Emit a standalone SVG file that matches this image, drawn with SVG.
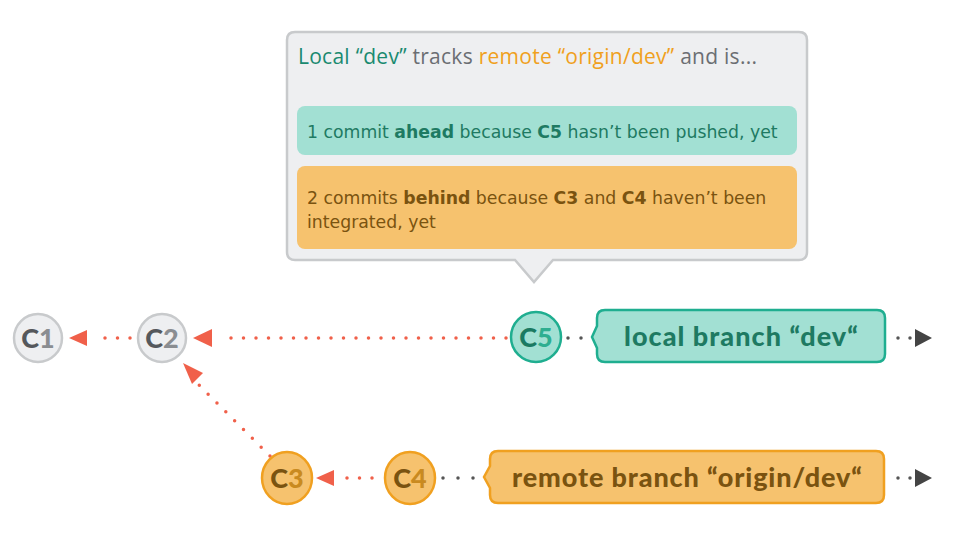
<svg xmlns="http://www.w3.org/2000/svg" width="960" height="537" viewBox="0 0 960 537">
<style>
.gc{fill:#eeeff1;stroke:#c8cacc;stroke-width:2.5}
.tc{fill:#a2e0d3;stroke:#1fae90;stroke-width:2.5}
.oc{fill:#f6c26e;stroke:#f0a020;stroke-width:2.5}
.ct{font-family:"Lato","Liberation Sans",sans-serif;font-weight:900;font-size:27px;text-anchor:middle}
.lbl{font-family:"Lato","Liberation Sans",sans-serif;font-weight:900;font-size:27px}
.tip{font-family:"DejaVu Sans","Liberation Sans",sans-serif;font-size:17.3px}
.head{font-family:"Open Sans","Liberation Sans",sans-serif;font-size:21px}
.rd{stroke:#f0604a;stroke-width:3.5;stroke-linecap:round;stroke-dasharray:0 12.5;fill:none}
.gd{stroke:#555;stroke-width:3.5;stroke-linecap:round;fill:none}
</style>
<g id="tooltip">
<path d="M295,32 H799 Q807,32 807,40 V252 Q807,260 799,260 H553 L534,282 L515,260 H295 Q287,260 287,252 V40 Q287,32 295,32 Z" fill="#eeeff1" stroke="#c8cacc" stroke-width="2.5"/>
<text class="head" x="298" y="64" textLength="459"><tspan fill="#1a8a70">Local “dev”</tspan><tspan fill="#6b6e73"> tracks </tspan><tspan fill="#f0a020">remote “origin/dev”</tspan><tspan fill="#6b6e73"> and is...</tspan></text>
<rect x="297" y="106" width="500" height="49" rx="8" fill="#a2e0d3"/>
<text class="tip" x="307" y="138" fill="#1e7a62">1 commit <tspan font-weight="bold">ahead</tspan> because <tspan font-weight="bold">C5</tspan> hasn’t been pushed, yet</text>
<rect x="297" y="166" width="500" height="83" rx="8" fill="#f6c26e"/>
<text class="tip" x="307" y="204" fill="#7a5310">2 commits <tspan font-weight="bold">behind</tspan> because <tspan font-weight="bold">C3</tspan> and <tspan font-weight="bold">C4</tspan> haven’t been</text>
<text class="tip" x="307" y="228" fill="#7a5310">integrated, yet</text>
</g>
<g id="connectors">
<path class="rd" d="M130,338 H95"/>
<polygon points="69,338 87,330 87,346" fill="#f0604a"/>
<path class="rd" d="M506,338 H219"/>
<polygon points="193,338 212,329 212,347" fill="#f0604a"/>
<path class="rd" d="M270,456 L198,384"/>
<polygon points="183,363 203,373 192,384" fill="#f0604a"/>
<path class="rd" d="M372,478 H345"/>
<polygon points="316,478 334,470 334,486" fill="#f0604a"/>
<path class="gd" stroke-dasharray="0 13" d="M568,338 H595"/>
<path class="gd" stroke-dasharray="0 12" d="M898,338 H910.5"/>
<polygon points="932,338 915,329 915,347" fill="#444"/>
<path class="gd" stroke-dasharray="0 15" d="M443,478 H473.5"/>
<path class="gd" stroke-dasharray="0 12" d="M898,478 H910.5"/>
<polygon points="932,478 915,469 915,487" fill="#444"/>
</g>
<g id="C1"><circle class="gc" cx="38" cy="338" r="24"/><text class="ct" x="38" y="348"><tspan fill="#55585c">C</tspan><tspan fill="#8a8d91">1</tspan></text></g>
<g id="C2"><circle class="gc" cx="162" cy="338" r="24"/><text class="ct" x="162" y="348"><tspan fill="#55585c">C</tspan><tspan fill="#8a8d91">2</tspan></text></g>
<g id="C5"><circle class="tc" cx="536" cy="337" r="25"/><text class="ct" x="536" y="347"><tspan fill="#1a7a62">C</tspan><tspan fill="#2fae90">5</tspan></text></g>
<g id="C3"><ellipse class="oc" cx="287" cy="478" rx="25" ry="26"/><text class="ct" x="287" y="488"><tspan fill="#7a5310">C</tspan><tspan fill="#c98a20">3</tspan></text></g>
<g id="C4"><ellipse class="oc" cx="410" cy="478" rx="25" ry="26"/><text class="ct" x="410" y="488"><tspan fill="#7a5310">C</tspan><tspan fill="#c98a20">4</tspan></text></g>
<g id="dev">
<path class="tc" d="M605,310 H877 Q885,310 885,318 V354 Q885,362 877,362 H605 Q597,362 597,354 V348 L592,337 L597,326 V318 Q597,310 605,310 Z"/>
<text class="lbl" x="624" y="346" fill="#1e7a62" textLength="234">local branch “dev“</text>
</g>
<g id="origin-dev">
<path class="oc" d="M498,451 H876 Q884,451 884,459 V495 Q884,503 876,503 H498 Q490,503 490,495 V488 L484,477 L490,466 V459 Q490,451 498,451 Z"/>
<text class="lbl" x="512" y="487" fill="#7a5310" textLength="350">remote branch “origin/dev“</text>
</g>
</svg>
